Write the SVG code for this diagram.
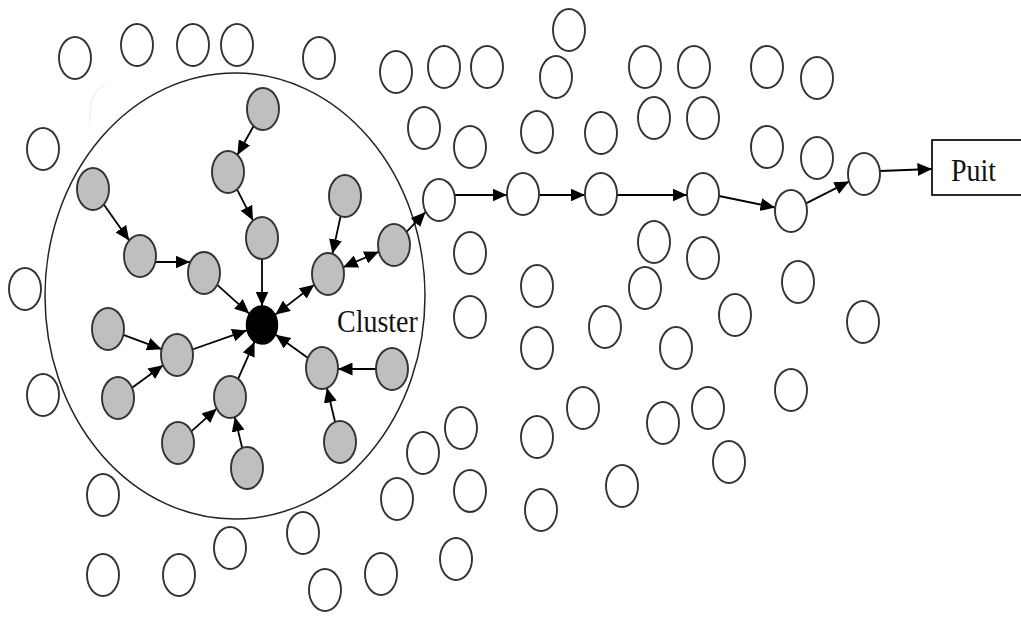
<svg xmlns="http://www.w3.org/2000/svg" width="1021" height="617" viewBox="0 0 1021 617">
  <style>
    .w { fill: #ffffff; stroke: #333333; stroke-width: 1.9; }
    .g { fill: #bfbfbf; stroke: #333333; stroke-width: 1.9; }
    .h { fill: #000000; stroke: #000000; stroke-width: 1.5; }
    .e { stroke: #000000; stroke-width: 1.8; fill: none; marker-end: url(#arrow); }
    .d { marker-start: url(#arrow); }
    .lbl { font-family: "Liberation Serif", "Times New Roman", serif; font-size: 28px; fill: #111111; }
  </style>
  <defs>
    <marker id="arrow" markerUnits="userSpaceOnUse" markerWidth="15" markerHeight="13" refX="14.5" refY="6.5" orient="auto-start-reverse">
      <path d="M0,0 L14.5,6.5 L0,13 z" fill="#000000"/>
    </marker>
  </defs>
  <rect width="1021" height="617" fill="#ffffff"/>

  <!-- cluster boundary -->
  <g id="cluster">
    <ellipse cx="235" cy="296" rx="190" ry="223" fill="none" stroke="#222222" stroke-width="1.5"/>
    <path d="M105 85 Q88 93 90 122" fill="none" stroke="#efefef" stroke-width="1.3"/>
    <text class="lbl" transform="translate(337,332) scale(1,1.15)">Cluster</text>
  </g>

  <!-- sink -->
  <g id="puit">
    <rect x="932" y="140" width="96" height="55" fill="#ffffff" stroke="#111111" stroke-width="1.8"/>
    <text class="lbl" transform="translate(951,181) scale(1,1.15)">Puit</text>
  </g>

  <!-- connectors -->
  <g id="connectors">
    <line class="e" x1="253.6" y1="126" x2="237.4" y2="155"/>
    <line class="e" x1="237" y1="189.4" x2="253" y2="220.6"/>
    <line class="e" x1="262" y1="259" x2="262" y2="306"/>
    <line class="e" x1="103.8" y1="204.5" x2="129.2" y2="240.5"/>
    <line class="e" x1="156" y1="262" x2="190" y2="262"/>
    <line class="e" x1="217.2" y1="284.8" x2="249.2" y2="313.6"/>
    <line class="e" x1="340.6" y1="216.2" x2="332.4" y2="253.8"/>
    <line class="e d" x1="378.8" y1="251.7" x2="343.2" y2="267.3"/>
    <line class="e d" x1="314.2" y1="284.7" x2="275.4" y2="314.6"/>
    <line class="e" x1="123.4" y1="334.8" x2="161.6" y2="349.2"/>
    <line class="e" x1="132" y1="387.8" x2="163" y2="365.2"/>
    <line class="e" x1="192.4" y1="349.5" x2="246.7" y2="330.4"/>
    <line class="e" x1="191.3" y1="431.3" x2="216.7" y2="408.7"/>
    <line class="e" x1="242.2" y1="448" x2="234.8" y2="417"/>
    <line class="e" x1="238.1" y1="378.9" x2="254.5" y2="341.8"/>
    <line class="e" x1="376" y1="369" x2="338" y2="369"/>
    <line class="e" x1="335.1" y1="422" x2="326.9" y2="388"/>
    <line class="e" x1="308" y1="357.9" x2="275.7" y2="334.8"/>
    <line class="e" x1="406.5" y1="231.9" x2="425.5" y2="212.1"/>
    <line class="e" x1="455" y1="195" x2="507" y2="195"/>
    <line class="e" x1="539" y1="195" x2="585" y2="195"/>
    <line class="e" x1="617" y1="195" x2="687" y2="195"/>
    <line class="e" x1="719" y1="196" x2="775" y2="207.5"/>
    <line class="e" x1="806" y1="203.4" x2="849" y2="181.6"/>
    <line class="e" x1="880" y1="171" x2="932" y2="169"/>
  </g>

  <!-- cluster head -->
  <g id="head"><ellipse class="h" cx="262" cy="325" rx="15.5" ry="19"/></g>

  <!-- cluster members -->
  <g id="m1"><ellipse class="g" cx="263" cy="109" rx="16" ry="21"/></g>
  <g id="m2"><ellipse class="g" cx="228" cy="172" rx="16" ry="21"/></g>
  <g id="m3"><ellipse class="g" cx="262" cy="238" rx="16" ry="21"/></g>
  <g id="m4"><ellipse class="g" cx="93" cy="189" rx="16" ry="21"/></g>
  <g id="m5"><ellipse class="g" cx="140" cy="256" rx="16" ry="21"/></g>
  <g id="m6"><ellipse class="g" cx="204" cy="273" rx="16" ry="21"/></g>
  <g id="m7"><ellipse class="g" cx="345" cy="196" rx="16" ry="21"/></g>
  <g id="m8"><ellipse class="g" cx="394" cy="245" rx="16" ry="21"/></g>
  <g id="m9"><ellipse class="g" cx="328" cy="274" rx="16" ry="21"/></g>
  <g id="m10"><ellipse class="g" cx="108" cy="329" rx="16" ry="21"/></g>
  <g id="m11"><ellipse class="g" cx="177" cy="355" rx="16" ry="21"/></g>
  <g id="m12"><ellipse class="g" cx="118" cy="398" rx="16" ry="21"/></g>
  <g id="m13"><ellipse class="g" cx="230" cy="397" rx="16" ry="21"/></g>
  <g id="m14"><ellipse class="g" cx="178" cy="443" rx="16" ry="21"/></g>
  <g id="m15"><ellipse class="g" cx="247" cy="468" rx="16" ry="21"/></g>
  <g id="m16"><ellipse class="g" cx="322" cy="368" rx="16" ry="21"/></g>
  <g id="m17"><ellipse class="g" cx="392" cy="369" rx="16" ry="21"/></g>
  <g id="m18"><ellipse class="g" cx="340" cy="442" rx="16" ry="21"/></g>

  <!-- relay path -->
  <g id="r1"><ellipse class="w" cx="439" cy="200" rx="16" ry="21"/></g>
  <g id="r2"><ellipse class="w" cx="523" cy="194" rx="16" ry="21"/></g>
  <g id="r3"><ellipse class="w" cx="601" cy="194" rx="16" ry="21"/></g>
  <g id="r4"><ellipse class="w" cx="703" cy="194" rx="16" ry="21"/></g>
  <g id="r5"><ellipse class="w" cx="791" cy="211" rx="16" ry="21"/></g>
  <g id="r6"><ellipse class="w" cx="864" cy="174" rx="16" ry="21"/></g>

  <!-- other sensor nodes -->
  <g id="s1"><ellipse class="w" cx="75" cy="58" rx="16" ry="21"/></g>
  <g id="s2"><ellipse class="w" cx="137" cy="45" rx="16" ry="21"/></g>
  <g id="s3"><ellipse class="w" cx="193" cy="45" rx="16" ry="21"/></g>
  <g id="s4"><ellipse class="w" cx="237" cy="45" rx="16" ry="21"/></g>
  <g id="s5"><ellipse class="w" cx="319" cy="58" rx="16" ry="21"/></g>
  <g id="s6"><ellipse class="w" cx="396" cy="72" rx="16" ry="21"/></g>
  <g id="s7"><ellipse class="w" cx="444" cy="67" rx="16" ry="21"/></g>
  <g id="s8"><ellipse class="w" cx="487" cy="67" rx="16" ry="21"/></g>
  <g id="s9"><ellipse class="w" cx="569" cy="30" rx="16" ry="21"/></g>
  <g id="s10"><ellipse class="w" cx="556" cy="77" rx="16" ry="21"/></g>
  <g id="s11"><ellipse class="w" cx="645" cy="67" rx="16" ry="21"/></g>
  <g id="s12"><ellipse class="w" cx="694" cy="67" rx="16" ry="21"/></g>
  <g id="s13"><ellipse class="w" cx="767" cy="67" rx="16" ry="21"/></g>
  <g id="s14"><ellipse class="w" cx="817" cy="78" rx="16" ry="21"/></g>
  <g id="s15"><ellipse class="w" cx="424" cy="128" rx="16" ry="21"/></g>
  <g id="s16"><ellipse class="w" cx="470" cy="147" rx="16" ry="21"/></g>
  <g id="s17"><ellipse class="w" cx="537" cy="132" rx="16" ry="21"/></g>
  <g id="s18"><ellipse class="w" cx="601" cy="133" rx="16" ry="21"/></g>
  <g id="s19"><ellipse class="w" cx="654" cy="118" rx="16" ry="21"/></g>
  <g id="s20"><ellipse class="w" cx="703" cy="118" rx="16" ry="21"/></g>
  <g id="s21"><ellipse class="w" cx="767" cy="147" rx="16" ry="21"/></g>
  <g id="s22"><ellipse class="w" cx="817" cy="158" rx="16" ry="21"/></g>
  <g id="s23"><ellipse class="w" cx="43" cy="149" rx="16" ry="21"/></g>
  <g id="s24"><ellipse class="w" cx="25" cy="289" rx="16" ry="21"/></g>
  <g id="s25"><ellipse class="w" cx="43" cy="395" rx="16" ry="21"/></g>
  <g id="s26"><ellipse class="w" cx="470" cy="253" rx="16" ry="21"/></g>
  <g id="s27"><ellipse class="w" cx="470" cy="317" rx="16" ry="21"/></g>
  <g id="s28"><ellipse class="w" cx="537" cy="286" rx="16" ry="21"/></g>
  <g id="s29"><ellipse class="w" cx="537" cy="348" rx="16" ry="21"/></g>
  <g id="s30"><ellipse class="w" cx="654" cy="242" rx="16" ry="21"/></g>
  <g id="s31"><ellipse class="w" cx="703" cy="258" rx="16" ry="21"/></g>
  <g id="s32"><ellipse class="w" cx="645" cy="288" rx="16" ry="21"/></g>
  <g id="s33"><ellipse class="w" cx="605" cy="327" rx="16" ry="21"/></g>
  <g id="s34"><ellipse class="w" cx="676" cy="348" rx="16" ry="21"/></g>
  <g id="s35"><ellipse class="w" cx="735" cy="315" rx="16" ry="21"/></g>
  <g id="s36"><ellipse class="w" cx="798" cy="282" rx="16" ry="21"/></g>
  <g id="s37"><ellipse class="w" cx="863" cy="322" rx="16" ry="21"/></g>
  <g id="s38"><ellipse class="w" cx="791" cy="390" rx="16" ry="21"/></g>
  <g id="s39"><ellipse class="w" cx="583" cy="408" rx="16" ry="21"/></g>
  <g id="s40"><ellipse class="w" cx="663" cy="423" rx="16" ry="21"/></g>
  <g id="s41"><ellipse class="w" cx="708" cy="408" rx="16" ry="21"/></g>
  <g id="s42"><ellipse class="w" cx="729" cy="462" rx="16" ry="21"/></g>
  <g id="s43"><ellipse class="w" cx="622" cy="486" rx="16" ry="21"/></g>
  <g id="s44"><ellipse class="w" cx="537" cy="437" rx="16" ry="21"/></g>
  <g id="s45"><ellipse class="w" cx="541" cy="510" rx="16" ry="21"/></g>
  <g id="s46"><ellipse class="w" cx="461" cy="428" rx="16" ry="21"/></g>
  <g id="s47"><ellipse class="w" cx="423" cy="453" rx="16" ry="21"/></g>
  <g id="s48"><ellipse class="w" cx="470" cy="491" rx="16" ry="21"/></g>
  <g id="s49"><ellipse class="w" cx="397" cy="499" rx="16" ry="21"/></g>
  <g id="s50"><ellipse class="w" cx="456" cy="559" rx="16" ry="21"/></g>
  <g id="s51"><ellipse class="w" cx="381" cy="574" rx="16" ry="21"/></g>
  <g id="s52"><ellipse class="w" cx="325" cy="590" rx="16" ry="21"/></g>
  <g id="s53"><ellipse class="w" cx="303" cy="533" rx="16" ry="21"/></g>
  <g id="s54"><ellipse class="w" cx="230" cy="548" rx="16" ry="21"/></g>
  <g id="s55"><ellipse class="w" cx="179" cy="575" rx="16" ry="21"/></g>
  <g id="s56"><ellipse class="w" cx="103" cy="575" rx="16" ry="21"/></g>
  <g id="s57"><ellipse class="w" cx="103" cy="495" rx="16" ry="21"/></g>
</svg>
